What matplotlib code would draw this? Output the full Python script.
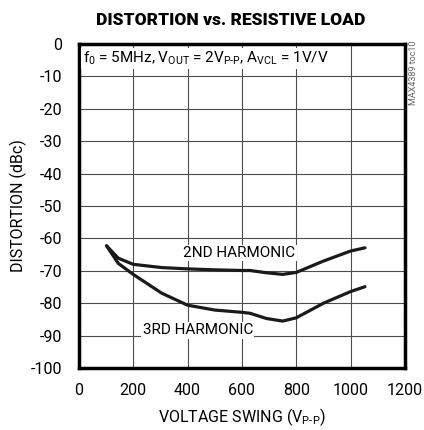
import numpy as np
import matplotlib
matplotlib.use("Agg")
import matplotlib.pyplot as plt

plt.rcParams['font.family'] = ['Roboto', 'DejaVu Sans']
plt.rcParams['mathtext.fontset'] = 'custom'
plt.rcParams['mathtext.rm'] = 'Roboto'
plt.rcParams['axes.unicode_minus'] = False

# data
swing = [102, 145, 200, 305, 400, 500, 600, 630, 690, 750, 800, 900, 1000, 1053]
harm2 = [-62.3, -66.1, -68.0, -69.0, -69.4, -69.7, -69.9, -69.9, -70.6, -71.1, -70.5, -67.0, -63.9, -62.9]
harm3 = [-62.3, -67.7, -71.1, -76.9, -80.6, -82.1, -82.8, -83.1, -84.7, -85.5, -84.5, -80.0, -76.4, -74.9]

xticks = [0, 200, 400, 600, 800, 1000, 1200]
yticks = list(range(0, -101, -10))

fig = plt.figure(figsize=(4.24, 4.30), dpi=100)
ax = fig.add_axes([0.186, 0.144, 0.769, 0.754])

ax.plot(swing, harm2, color='#1a1a1a', lw=2.3, solid_capstyle='round', solid_joinstyle='round')
ax.plot(swing, harm3, color='#1a1a1a', lw=2.3, solid_capstyle='round', solid_joinstyle='round')

ax.set_xlim(0, 1200)
ax.set_ylim(-100, 0)
ax.set_xticks(xticks)
ax.set_yticks(yticks)
ax.tick_params(length=0, labelsize=11.5)
ax.tick_params(axis='x', pad=11)
ax.tick_params(axis='y', pad=12)
ax.grid(True, color='#4d4d4d', lw=0.8)
for s in ax.spines.values():
    s.set_linewidth(2.5)

ax.set_xlabel(r'VOLTAGE SWING (V$\mathregular{_{P\text{-}P}}$)', fontsize=11.5, labelpad=6)
ax.set_ylabel('DISTORTION (dBc)', fontsize=11.5, labelpad=3)

fig.text(0.545, 0.953, 'DISTORTION vs. RESISTIVE LOAD', ha='center', va='center',
         fontsize=12.5, fontweight='black')

ax.text(15, -4.5, r'f$\mathregular{_0}$ = 5MHz, V$\mathregular{_{OUT}}$ = 2V$\mathregular{_{P\text{-}P}}$, A$\mathregular{_{VCL}}$ = 1V/V',
        fontsize=11, va='center', ha='left',
        bbox=dict(facecolor='white', edgecolor='none', pad=1.5))
ax.text(590, -64.5, '2ND HARMONIC', fontsize=11, ha='center', va='center',
        bbox=dict(facecolor='white', edgecolor='none', pad=1))
ax.text(438, -88.3, '3RD HARMONIC', fontsize=11, ha='center', va='center',
        bbox=dict(facecolor='white', edgecolor='none', pad=1))

fig.text(0.975, 0.83, 'MAX4389 toc10', rotation=90, ha='center', va='center',
         fontsize=6.5, color='#666666')

fig.savefig('out.png', dpi=100)
